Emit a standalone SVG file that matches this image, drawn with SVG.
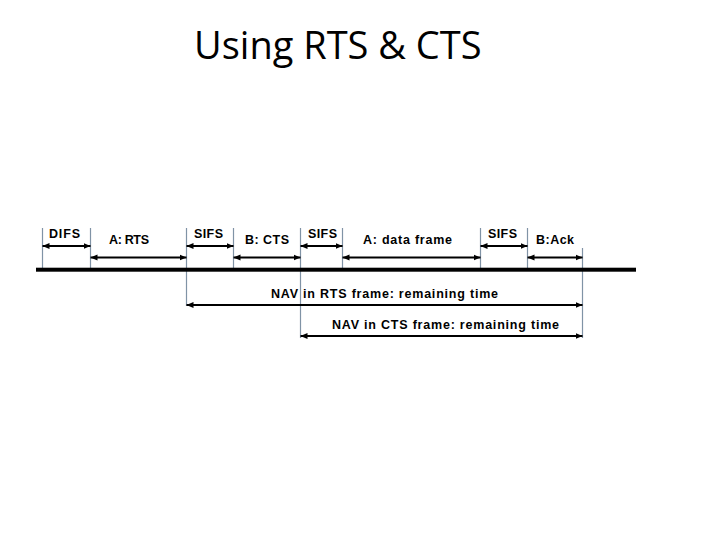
<svg xmlns="http://www.w3.org/2000/svg" width="720" height="540" viewBox="0 0 720 540">
<style>
.lbl{font-family:"Liberation Sans",Arial,sans-serif;font-size:12.5px;font-weight:bold;fill:#000}
.title{font-family:"Open Sans","Noto Sans",sans-serif;font-size:38px;fill:#000}
.tick{stroke:#8093a6;stroke-width:1.2}
.arr{stroke:#000;stroke-width:2;fill:none;marker-start:url(#hs);marker-end:url(#he)}
</style>
<defs>
<marker id="he" markerUnits="userSpaceOnUse" markerWidth="7" markerHeight="7" viewBox="0 0 7 7" refX="7" refY="3.5" orient="auto"><path d="M0,0.5 L7,3.5 L0,6.5 Z" fill="#000"/></marker>
<marker id="hs" markerUnits="userSpaceOnUse" markerWidth="7" markerHeight="7" viewBox="0 0 7 7" refX="0" refY="3.5" orient="auto"><path d="M7,0.5 L0,3.5 L7,6.5 Z" fill="#000"/></marker>
</defs>
<rect width="720" height="540" fill="#fff"/>
<g id="title"><text class="title" x="194" y="59">Using RTS &amp; CTS</text></g>
<g id="connectors">
<line class="tick" x1="42.5" y1="228" x2="42.5" y2="270"/>
<line class="tick" x1="90.5" y1="228" x2="90.5" y2="270"/>
<line class="tick" x1="186.5" y1="228" x2="186.5" y2="306"/>
<line class="tick" x1="233.5" y1="228" x2="233.5" y2="270"/>
<line class="tick" x1="300.5" y1="228" x2="300.5" y2="338"/>
<line class="tick" x1="342.5" y1="228" x2="342.5" y2="270"/>
<line class="tick" x1="480.5" y1="228" x2="480.5" y2="270"/>
<line class="tick" x1="527.5" y1="228" x2="527.5" y2="270"/>
<line class="tick" x1="582.5" y1="248" x2="582.5" y2="338"/>
<rect x="36" y="267.7" width="600" height="4" fill="#000"/>
<line class="arr" x1="42.5" y1="246" x2="90.5" y2="246"/>
<line class="arr" x1="90.5" y1="257.5" x2="186.5" y2="257.5"/>
<line class="arr" x1="186.5" y1="246" x2="233.5" y2="246"/>
<line class="arr" x1="233.5" y1="257.5" x2="300.5" y2="257.5"/>
<line class="arr" x1="300.5" y1="246" x2="342.5" y2="246"/>
<line class="arr" x1="342.5" y1="257.5" x2="480.5" y2="257.5"/>
<line class="arr" x1="480.5" y1="246" x2="527.5" y2="246"/>
<line class="arr" x1="527.5" y1="257.5" x2="582.5" y2="257.5"/>
<line class="arr" x1="186.5" y1="305" x2="582.5" y2="305"/>
<line class="arr" x1="300.5" y1="336" x2="582.5" y2="336"/>
</g>
<g id="difs"><text class="lbl" x="49" y="238" textLength="31" lengthAdjust="spacing">DIFS</text></g>
<g id="a-rts"><text class="lbl" x="109" y="244" textLength="40" lengthAdjust="spacing">A: RTS</text></g>
<g id="sifs1"><text class="lbl" x="194" y="238" textLength="29" lengthAdjust="spacing">SIFS</text></g>
<g id="b-cts"><text class="lbl" x="245" y="244" textLength="44" lengthAdjust="spacing">B: CTS</text></g>
<g id="sifs2"><text class="lbl" x="308" y="238" textLength="29" lengthAdjust="spacing">SIFS</text></g>
<g id="a-data"><text class="lbl" x="363" y="244" textLength="89" lengthAdjust="spacing">A: data frame</text></g>
<g id="sifs3"><text class="lbl" x="488" y="238" textLength="29" lengthAdjust="spacing">SIFS</text></g>
<g id="b-ack"><text class="lbl" x="536" y="244" textLength="38" lengthAdjust="spacing">B:Ack</text></g>
<g id="nav-rts"><text class="lbl" x="271" y="298" textLength="227" lengthAdjust="spacing">NAV in RTS frame: remaining time</text></g>
<g id="nav-cts"><text class="lbl" x="332" y="329" textLength="227" lengthAdjust="spacing">NAV in CTS frame: remaining time</text></g>
</svg>
